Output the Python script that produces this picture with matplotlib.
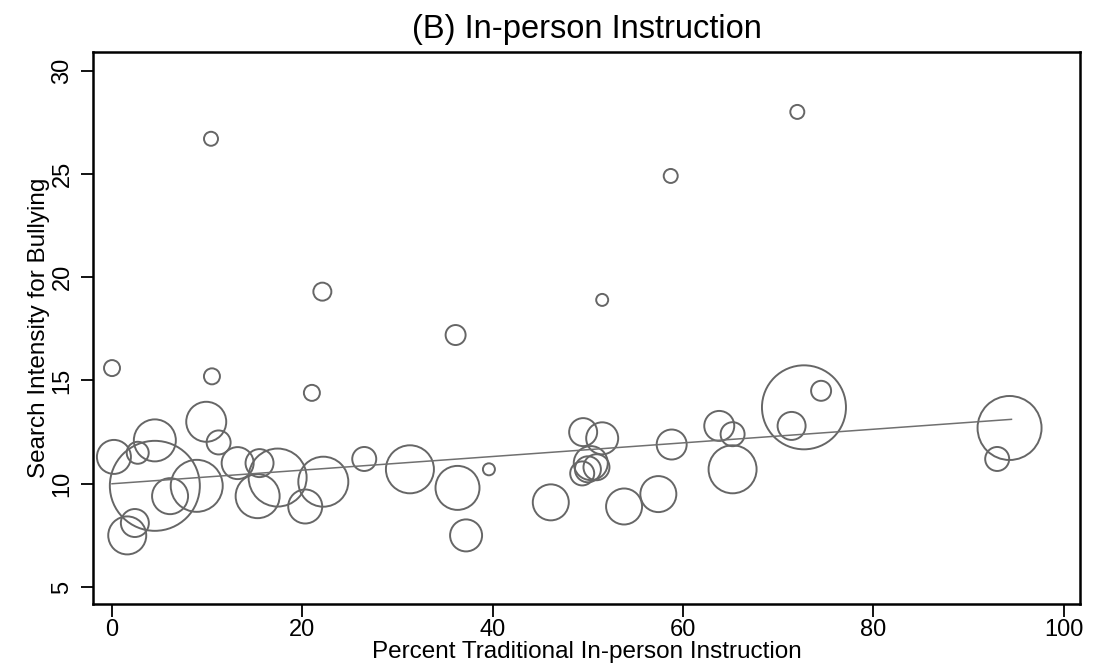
import numpy as np
import matplotlib
matplotlib.use("Agg")
from matplotlib import pyplot as plt

# percent in-person instruction, bullying search intensity, bubble weight
pct_inperson = [0.0, 10.4, 72.0, 58.7, 22.1, 51.5, 36.1, 10.5, 21.0, 74.5,
                72.7, 71.4, 94.3, 93.0, 65.2, 65.2, 63.8, 58.8, 57.4, 53.8,
                46.1, 37.2, 36.3, 39.6, 31.3, 26.5, 22.2, 20.3, 17.4, 15.3,
                15.5, 13.2, 11.2, 9.9, 8.9, 6.1, 4.5, 4.5, 2.7, 0.2,
                1.6, 2.4, 49.5, 51.5, 49.4, 50.0, 50.9, 50.3]
search_intensity = [15.6, 26.7, 28.0, 24.9, 19.3, 18.9, 17.2, 15.2, 14.4, 14.5,
                    13.7, 12.8, 12.7, 11.2, 10.7, 12.4, 12.8, 11.9, 9.5, 8.9,
                    9.1, 7.5, 9.8, 10.7, 10.7, 11.2, 10.1, 8.9, 10.3, 9.4,
                    11.0, 11.0, 12.0, 13.0, 9.9, 9.4, 9.9, 12.1, 11.5, 11.3,
                    7.5, 8.1, 12.5, 12.2, 10.5, 10.7, 10.8, 11.0]
weight = [6.4, 4.9, 4.9, 4.9, 8.1, 3.6, 10.0, 6.4, 6.4, 10.0,
          176.4, 19.6, 102.4, 14.4, 57.6, 14.4, 22.5, 22.5, 32.4, 32.4,
          32.4, 25.6, 48.4, 3.6, 57.6, 14.4, 62.5, 28.9, 84.1, 48.4,
          19.6, 25.6, 14.4, 40.0, 67.6, 32.4, 202.5, 44.1, 12.1, 28.9,
          36.1, 19.6, 19.6, 25.6, 14.4, 16.9, 16.9, 28.9]

# weighted linear fit
fit_intercept = 10.0
fit_slope = 0.033
fit_range = [0.0, 94.5]

plt.rcParams['font.family'] = ['Liberation Sans', 'DejaVu Sans']

fig = plt.figure(figsize=(10.99, 6.72), dpi=100)
ax = fig.add_axes([0.0846, 0.1012, 0.8981, 0.8214])

# radius in px ~ sqrt(weight * 10); s is in points^2
radius_px = np.sqrt(np.array(weight) * 10)
sizes = (2 * radius_px * 0.72) ** 2
ax.scatter(pct_inperson, search_intensity, s=sizes, facecolors='none',
           edgecolors='#666666', linewidths=1.4)

fx = np.array(fit_range)
ax.plot(fx, fit_intercept + fit_slope * fx, color='#707070', lw=1.1)

ax.set_xlim(-2, 101.7)
ax.set_ylim(4.18, 30.9)
ax.set_xticks([0, 20, 40, 60, 80, 100])
ax.set_yticks([5, 10, 15, 20, 25, 30])
ax.tick_params(axis='both', direction='out', length=9, width=1.3, labelsize=17)
ax.tick_params(axis='x', pad=2)
ax.tick_params(axis='y', labelrotation=90, pad=5)
for lbl in ax.get_yticklabels():
    lbl.set_va('center')
for sp in ax.spines.values():
    sp.set_linewidth(1.8)

ax.set_title("(B) In-person Instruction", fontsize=23.5, pad=10)
ax.set_xlabel("Percent Traditional In-person Instruction", fontsize=17.5, labelpad=0)
ax.set_ylabel("Search Intensity for Bullying", fontsize=17.5, labelpad=1)

fig.savefig("out.png", dpi=100)
